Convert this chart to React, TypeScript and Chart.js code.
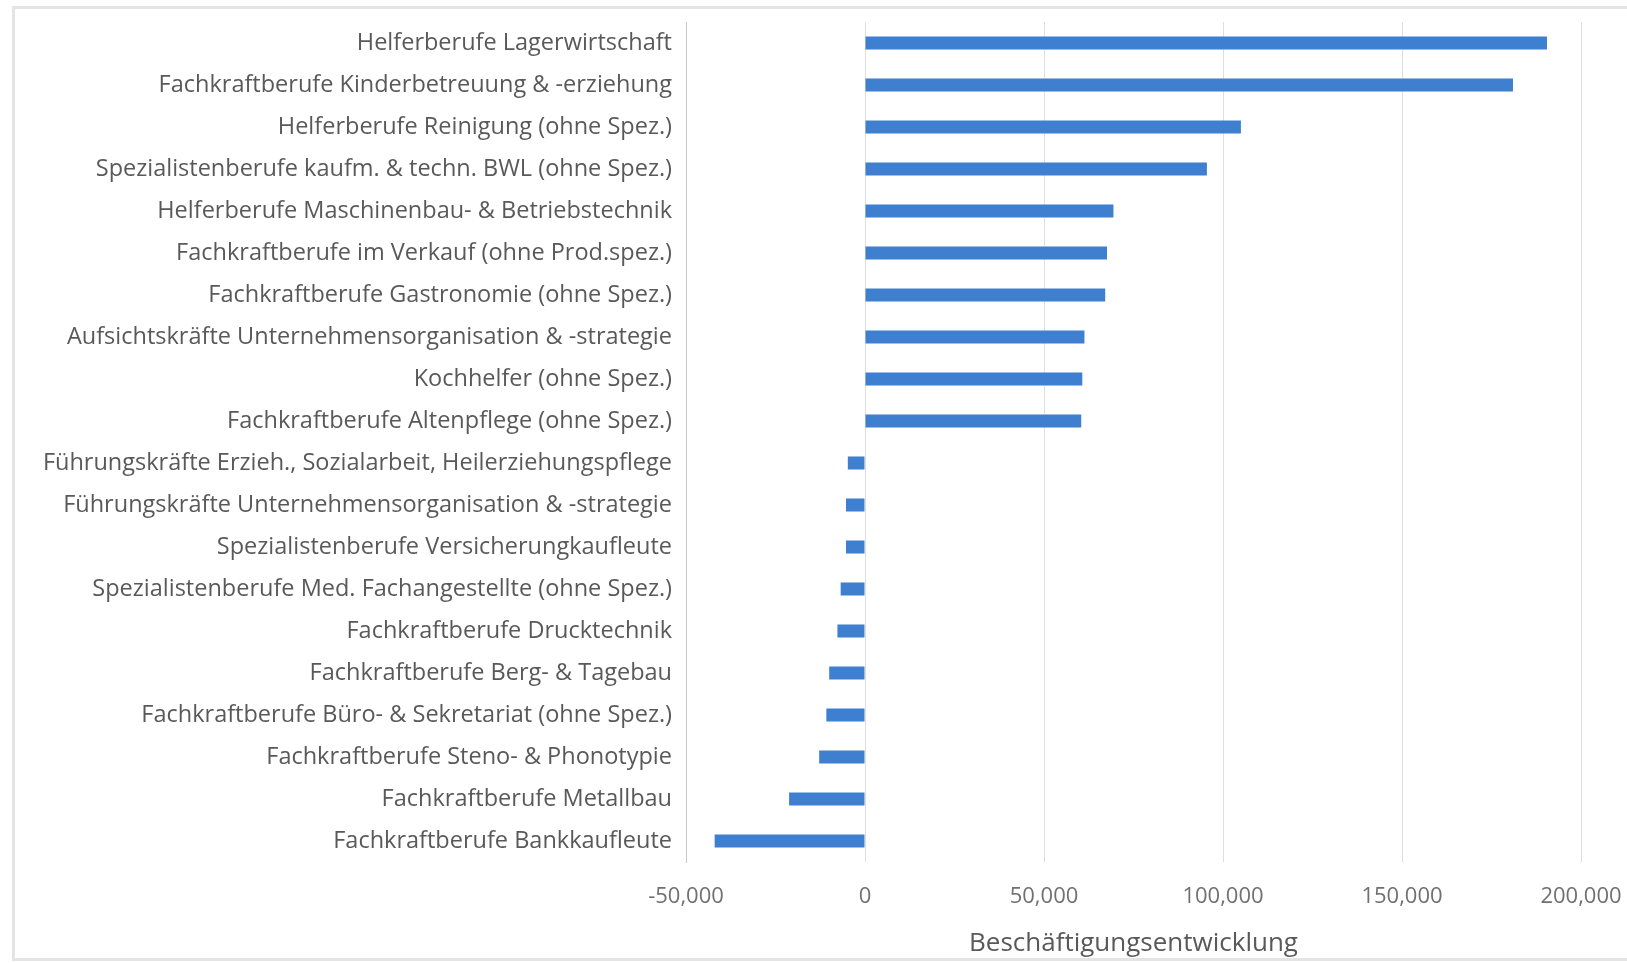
import React, { useEffect, useRef } from "react";
import { Chart, registerables } from "chart.js";

Chart.register(...registerables);

const categories = [
  "Helferberufe Lagerwirtschaft",
  "Fachkraftberufe Kinderbetreuung & -erziehung",
  "Helferberufe Reinigung (ohne Spez.)",
  "Spezialistenberufe kaufm. & techn. BWL (ohne Spez.)",
  "Helferberufe Maschinenbau- & Betriebstechnik",
  "Fachkraftberufe im Verkauf (ohne Prod.spez.)",
  "Fachkraftberufe Gastronomie (ohne Spez.)",
  "Aufsichtskräfte Unternehmensorganisation & -strategie",
  "Kochhelfer (ohne Spez.)",
  "Fachkraftberufe Altenpflege (ohne Spez.)",
  "Führungskräfte Erzieh., Sozialarbeit, Heilerziehungspflege",
  "Führungskräfte Unternehmensorganisation & -strategie",
  "Spezialistenberufe Versicherungkaufleute",
  "Spezialistenberufe Med. Fachangestellte (ohne Spez.)",
  "Fachkraftberufe Drucktechnik",
  "Fachkraftberufe Berg- & Tagebau",
  "Fachkraftberufe Büro- & Sekretariat (ohne Spez.)",
  "Fachkraftberufe Steno- & Phonotypie",
  "Fachkraftberufe Metallbau",
  "Fachkraftberufe Bankkaufleute",
];

const beschaeftigung = [
  190500, 181000, 105000, 95500, 69400, 67600, 67100, 61300, 60700, 60400,
  -4800, -5300, -5300, -6800, -7700, -10000, -10800, -12800, -21200, -42000,
];

const xMin = -50000;
const xMax = 200000;
const xStep = 50000;
const xTitle = "Beschäftigungsentwicklung";

const frame = {
  id: "frame",
  beforeDraw(chart: any) {
    const ctx = chart.ctx;
    ctx.save();
    ctx.strokeStyle = "#e4e4e4";
    ctx.lineWidth = 3;
    ctx.strokeRect(13.5, 7.5, 1640, 952);
    ctx.restore();
  },
};

export default function App() {
  const ref = useRef<HTMLCanvasElement>(null);
  useEffect(() => {
    document.body.style.margin = "0";
    const chart = new Chart(ref.current!, {
      type: "bar",
      data: {
        labels: categories,
        datasets: [
          {
            data: beschaeftigung,
            backgroundColor: "#3f7fcf",
            borderWidth: 0,
            barPercentage: 0.62,
            categoryPercentage: 0.5,
          },
        ],
      },
      plugins: [frame],
      options: {
        indexAxis: "y",
        animation: false,
        responsive: false,
        maintainAspectRatio: false,
        layout: { padding: { top: 22, right: 46, bottom: 0, left: 0 } },
        plugins: { legend: { display: false }, tooltip: { enabled: false } },
        scales: {
          x: {
            min: xMin,
            max: xMax,
            ticks: {
              stepSize: xStep,
              color: "#707070",
              font: { family: "Open Sans", size: 22 },
              padding: 22,
              callback: (v: any) => Number(v).toLocaleString("en-US"),
            },
            grid: { color: "#dedede", lineWidth: 1, drawTicks: false },
            border: { display: false },
            title: {
              display: true,
              text: xTitle,
              color: "#595959",
              font: { family: "Open Sans", size: 26 },
              padding: { top: 4, bottom: 4 },
            },
            afterFit: (s: any) => {
              s.height = 101;
              s.paddingRight = 0;
              s.paddingLeft = 0;
            },
          },
          y: {
            ticks: {
              color: "#595959",
              font: { family: "Open Sans", size: 23.5 },
              padding: 14,
              autoSkip: false,
            },
            grid: { display: false, drawTicks: false },
            border: { display: true, color: "#c8c8c8", width: 1 },
            afterFit: (s: any) => {
              s.width = 686;
              s.paddingTop = 0;
              s.paddingBottom = 0;
            },
          },
        },
      },
    });
    return () => chart.destroy();
  }, []);
  return (
    <div style={{ position: "absolute", left: 0, top: 0, width: 1627, height: 963, background: "#fff" }}>
      <canvas ref={ref} width={1627} height={963} />
    </div>
  );
}
